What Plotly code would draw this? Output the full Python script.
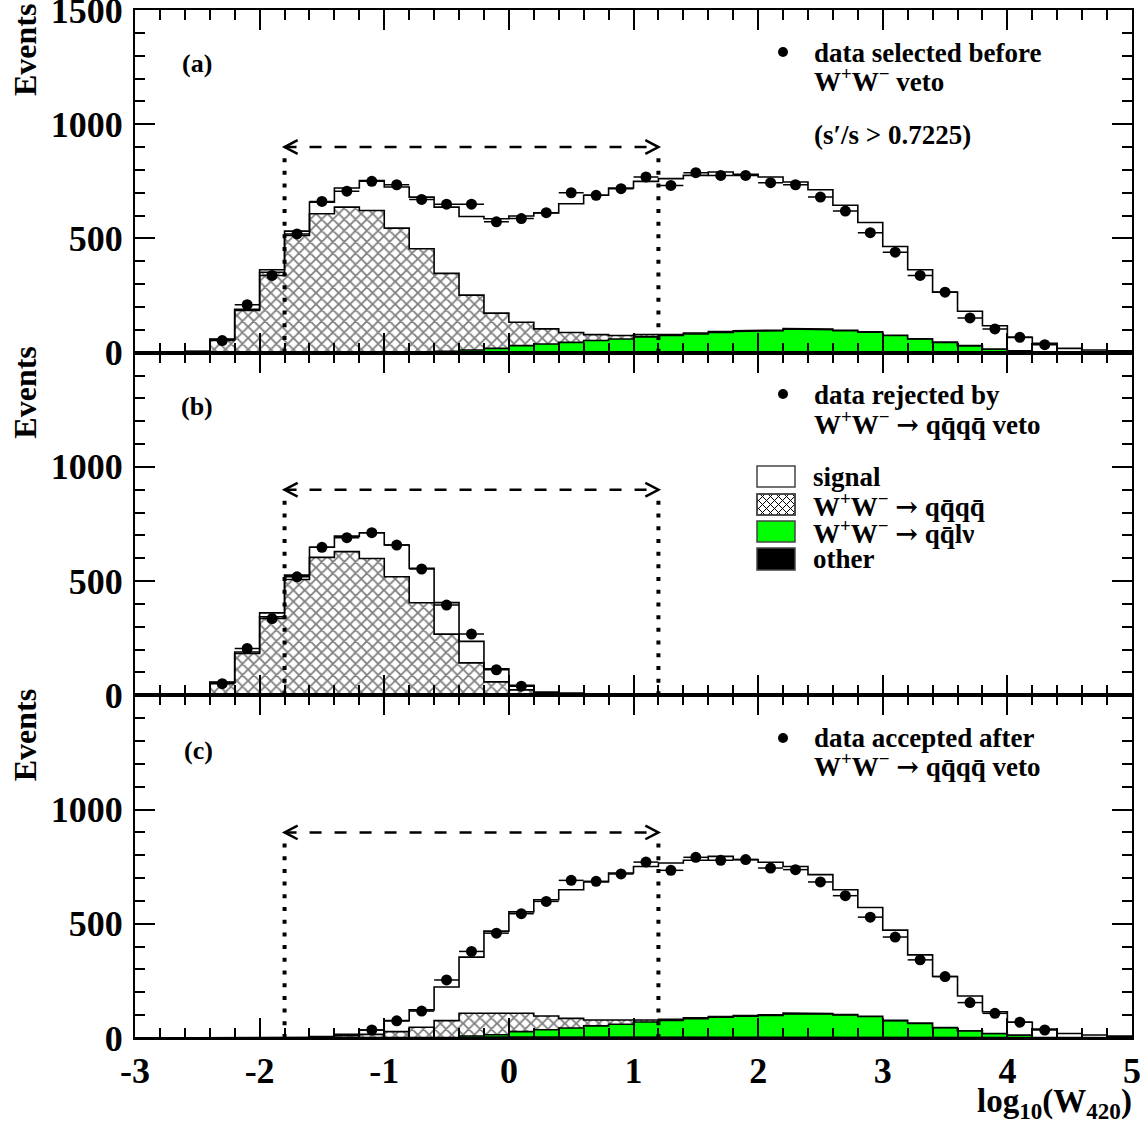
import numpy as np
import plotly.graph_objects as go

# ---------------- data ----------------
x_min, x_max, bin_width = -3.0, 5.0, 0.2
x_tick_vals = [-3, -2, -1, 0, 1, 2, 3, 4, 5]
x_tick_text = ["-3", "-2", "-1", "0", "1", "2", "3", "4", "5"]
y_tick_vals_top = [0, 500, 1000, 1500]
y_tick_vals = [0, 500, 1000]
cut_low, cut_high, arrow_level, dotted_top = -1.8, 1.2, 900, 880

# panel (a): selected before veto
other_a = [0,0,0,0,0,0,0,0,1,1,2,2,3,3,4,4,4,4,4,4,4,4,4,4,4,4,4,4,4,4,4,3,3,3,2,2,2,1,1,1]
lnu_a = [0,0,0,0,0,0,0,0,0,0,0,1,3,9,15,27,34,41,49,56,65,71,78,85,89,92,100,97,92,86,71,57,42,28,14,6,1,0,0,0]
qqqq_a = [0,0,5,57,185,352,513,608,636,621,543,452,341,240,154,102,66,43,26,15,10,5,4,3,3,3,2,2,2,1,1,1,1,0,0,0,0,0,0,0]
sig_a = [0,0,1,3,5,11,19,51,84,131,180,226,290,344,413,465,508,564,610,646,671,682,690,699,685,670,641,610,547,479,389,302,219,150,102,59,38,18,11,7]
data_a = [None,None,None,53,210,338,520,662,707,750,735,671,650,650,573,587,613,700,689,718,769,732,788,776,776,744,735,681,620,525,440,338,265,152,104,67,35,None,None,None]

# panel (b): rejected by veto
other_b = [0]*40
lnu_b = [0]*40
qqqq_b = [0,0,5,56,183,344,507,604,629,599,519,405,268,142,59,24,6,3,1,0,0,0,0,0,0,0,0,0,0,0,0,0,0,0,0,0,0,0,0,0]
sig_b = [0,0,1,2,7,17,19,44,68,113,139,151,138,94,57,20,8,7,5,3,2,1,0,0,0,0,0,0,0,0,0,0,0,0,0,0,0,0,0,0]
data_b = [None,None,None,51,205,336,519,648,690,712,658,553,395,268,112,40,None,None,None,None,None,None,None,None,None,None,None,None,None,None,None,None,None,None,None,None,None,None,None,None]

# panel (c): accepted after veto
other_c = [0,0,0,0,0,0,0,0,1,1,2,2,3,3,4,4,4,4,4,4,4,4,4,4,4,4,4,4,4,4,4,3,3,3,2,2,2,1,1,1]
lnu_c = [0,0,0,0,0,0,0,0,0,0,0,0,0,6,10,24,32,40,49,56,66,73,80,87,91,95,102,101,97,90,72,61,42,29,18,11,1,0,0,0]
qqqq_c = [0,0,0,0,0,0,2,4,9,15,26,45,73,99,97,80,60,42,26,16,9,5,4,3,3,3,3,2,2,1,1,1,1,0,0,0,0,0,0,0]
sig_c = [0,0,0,0,0,0,1,2,6,19,48,76,147,246,357,444,509,563,604,646,672,684,690,701,683,667,642,608,546,476,395,299,223,152,95,56,36,19,12,7]
data_c = [None,None,None,None,None,None,None,None,None,35,75,118,254,379,459,544,598,690,686,718,770,734,791,778,781,744,737,683,623,529,442,342,269,155,108,69,35,None,None,None]

# ---------------- layout geometry ----------------
W, H = 1144, 1128
L, R, T, B = 135, 1132, 10, 1038
PW, PH = R - L, B - T
FONT = "Liberation Serif"
GREEN = "#00ff00"


def pxx(xp):
    return (xp - L) / PW


def pxy(yp):
    return (B - yp) / PH


n_bins = len(sig_a)
edges = x_min + bin_width * np.arange(n_bins + 1)
centers = 0.5 * (edges[:-1] + edges[1:])


def step(vals):
    xs, ys = [edges[0]], [0.0]
    for i, v in enumerate(vals):
        xs += [edges[i], edges[i + 1]]
        ys += [v, v]
    xs.append(edges[-1])
    ys.append(0.0)
    return xs, ys


fig = go.Figure()
panels = [
    ("x", "y", other_a, lnu_a, qqqq_a, sig_a, data_a),
    ("x2", "y2", other_b, lnu_b, qqqq_b, sig_b, data_b),
    ("x3", "y3", other_c, lnu_c, qqqq_c, sig_c, data_c),
]
for xa, ya, oth, lnu, qq, sig, dat in panels:
    c1 = np.array(oth, float)
    c2 = c1 + np.array(lnu, float)
    c3 = c2 + np.array(qq, float)
    c4 = c3 + np.array(sig, float)
    line = dict(color="black", width=1.6)
    xs, ys = step(c1)
    fig.add_trace(go.Scatter(x=xs, y=ys, xaxis=xa, yaxis=ya, mode="lines", line=line,
                             fill="tozeroy", fillcolor="black", showlegend=False, hoverinfo="skip"))
    xs, ys = step(c2)
    fig.add_trace(go.Scatter(x=xs, y=ys, xaxis=xa, yaxis=ya, mode="lines", line=line,
                             fill="tonexty", fillcolor=GREEN, showlegend=False, hoverinfo="skip"))
    xs, ys = step(c3)
    fig.add_trace(go.Scatter(x=xs, y=ys, xaxis=xa, yaxis=ya, mode="lines", line=line,
                             fill="tonexty", fillcolor="white",
                             fillpattern=dict(shape="x", fgcolor="black", bgcolor="white",
                                              size=8, solidity=0.4),
                             showlegend=False, hoverinfo="skip"))
    xs, ys = step(c4)
    fig.add_trace(go.Scatter(x=xs, y=ys, xaxis=xa, yaxis=ya, mode="lines", line=line,
                             fill="tonexty", fillcolor="white", showlegend=False, hoverinfo="skip"))
    fig.add_trace(go.Scatter(x=centers, y=dat, xaxis=xa, yaxis=ya, mode="markers",
                             marker=dict(color="black", size=11),
                             error_x=dict(type="constant", value=bin_width / 2, width=0,
                                          thickness=1.5, color="black"),
                             showlegend=False))

tickfont = dict(family=FONT, size=36, color="black", weight="bold")
xcommon = dict(range=[x_min, x_max], showline=True, linewidth=2, linecolor="black",
               mirror="allticks", ticks="inside", ticklen=20, tickwidth=2, tickcolor="black",
               tickmode="array", tickvals=x_tick_vals, ticktext=x_tick_text, automargin=False,
               minor=dict(tickmode="linear", tick0=0, dtick=bin_width, ticklen=10, tickwidth=1.5,
                          ticks="inside", tickcolor="black"),
               showgrid=False, zeroline=False, tickfont=tickfont)
ycommon = dict(showline=True, linewidth=2, linecolor="black",
               mirror="allticks", ticks="inside", ticklen=20, tickwidth=2, tickcolor="black",
               tickmode="array", ticklabelstandoff=3, ticklabeloverflow="allow", automargin=False,
               minor=dict(tickmode="linear", tick0=0, dtick=100, ticklen=10, tickwidth=1.5,
                          ticks="inside", tickcolor="black"),
               showgrid=False, zeroline=False, tickfont=tickfont)

fig.update_layout(
    width=W, height=H, margin=dict(l=L, r=W - R, t=T, b=H - B, autoexpand=False),
    paper_bgcolor="white", plot_bgcolor="white",
    font=dict(family=FONT, size=26, color="black", weight="bold"),
    xaxis=dict(xcommon, anchor="y", showticklabels=False),
    xaxis2=dict(xcommon, anchor="y2", showticklabels=False, matches="x"),
    xaxis3=dict(xcommon, anchor="y3", matches="x"),
    yaxis=dict(ycommon, domain=[2 / 3, 1], anchor="x", range=[0, 1500], tickvals=y_tick_vals_top),
    yaxis2=dict(ycommon, domain=[1 / 3, 2 / 3], anchor="x2", range=[0, 1500], tickvals=y_tick_vals),
    yaxis3=dict(ycommon, domain=[0, 1 / 3], anchor="x3", range=[0, 1500], tickvals=y_tick_vals),
)

# ---------------- cut lines and arrows ----------------
shapes = []
arrow_dx, arrow_dy = 0.105, 30
for xa, ya in [("x", "y"), ("x2", "y2"), ("x3", "y3")]:
    for xc in (cut_low, cut_high):
        shapes.append(dict(type="line", xref=xa, yref=ya, x0=xc, x1=xc, y0=0, y1=dotted_top,
                           line=dict(color="black", width=4, dash="4px,8.7px")))
    shapes.append(dict(type="line", xref=xa, yref=ya, x0=cut_low, x1=cut_high,
                       y0=arrow_level, y1=arrow_level,
                       line=dict(color="black", width=2.5, dash="12px,13px")))
    shapes.append(dict(type="path", xref=xa, yref=ya,
                       path=f"M {cut_low + arrow_dx} {arrow_level + arrow_dy} L {cut_low} {arrow_level} "
                            f"L {cut_low + arrow_dx} {arrow_level - arrow_dy}",
                       line=dict(color="black", width=2.5)))
    shapes.append(dict(type="path", xref=xa, yref=ya,
                       path=f"M {cut_high - arrow_dx} {arrow_level + arrow_dy} L {cut_high} {arrow_level} "
                            f"L {cut_high - arrow_dx} {arrow_level - arrow_dy}",
                       line=dict(color="black", width=2.5)))

# legend bullets
for yb in (52, 394, 738):
    shapes.append(dict(type="circle", xref="paper", yref="paper",
                       x0=pxx(783 - 5), x1=pxx(783 + 5), y0=pxy(yb + 5), y1=pxy(yb - 5),
                       fillcolor="black", line=dict(color="black", width=0)))

# legend boxes
bx0, bx1 = 757, 795
boxes = [(466, 487, "white"), (494, 515, "white"), (521, 542, GREEN), (548, 570, "black")]
for y0, y1, col in boxes:
    shapes.append(dict(type="rect", xref="paper", yref="paper",
                       x0=pxx(bx0), x1=pxx(bx1), y0=pxy(y1), y1=pxy(y0),
                       fillcolor=col, line=dict(color="#444444", width=1.5), layer="above"))

# cross-hatch inside the second legend box
hy0, hy1 = 494, 515
segs = []
spacing = 8
for c in np.arange(bx0 - (hy1 - hy0), bx1 + spacing, spacing):
    for sgn in (1, -1):
        ya_, yb_ = hy0, hy1
        if sgn == 1:
            xa_, xb_ = c, c + (hy1 - hy0)
        else:
            xa_, xb_ = c + (hy1 - hy0), c
        ta = (bx0 - xa_) / (xb_ - xa_)
        tb = (bx1 - xa_) / (xb_ - xa_)
        t0 = max(0.0, min(ta, tb))
        t1 = min(1.0, max(ta, tb))
        if t1 <= t0:
            continue
        p0 = (xa_ + t0 * (xb_ - xa_), ya_ + t0 * (yb_ - ya_))
        p1 = (xa_ + t1 * (xb_ - xa_), ya_ + t1 * (yb_ - ya_))
        segs.append(f"M {pxx(p0[0]):.5f} {pxy(p0[1]):.5f} L {pxx(p1[0]):.5f} {pxy(p1[1]):.5f}")
shapes.append(dict(type="path", xref="paper", yref="paper", path=" ".join(segs),
                   line=dict(color="black", width=1), layer="above"))
shapes.append(dict(type="rect", xref="paper", yref="paper",
                   x0=pxx(bx0), x1=pxx(bx1), y0=pxy(hy1), y1=pxy(hy0),
                   line=dict(color="#444444", width=1.5), layer="above"))

fig.update_layout(shapes=shapes)

# ---------------- text ----------------
WW = "W<sup>+</sup>W<sup>\u2212</sup>"
ARROW = "<span style=\"font-family:'DejaVu Serif'\">\u2192</span>"
qqqq = "qq\u0304qq\u0304"
texts = [
    (180, 63, "(a)", 26, "left"),
    (179, 407, "(b)", 26, "left"),
    (182, 750, "(c)", 26, "left"),
    (812, 53, "data selected before", 27, "left"),
    (812, 80, WW + " veto", 27, "left"),
    (812, 135, "(s\u2032/s > 0.7225)", 27, "left"),
    (812, 395, "data rejected by", 27, "left"),
    (812, 423, WW + " " + ARROW + " " + qqqq + " veto", 27, "left"),
    (811, 477, "signal", 27, "left"),
    (811, 505, WW + " " + ARROW + " " + qqqq, 27, "left"),
    (811, 532, WW + " " + ARROW + " qq\u0304l\u03bd", 27, "left"),
    (811, 559, "other", 27, "left"),
    (812, 738, "data accepted after", 27, "left"),
    (812, 765, WW + " " + ARROW + " " + qqqq + " veto", 27, "left"),
]
annotations = []
for xp, yp, txt, size, anchor in texts:
    annotations.append(dict(x=pxx(xp), y=pxy(yp), xref="paper", yref="paper", text=txt,
                            showarrow=False, xanchor=anchor, yanchor="middle",
                            font=dict(family=FONT, size=size, color="black", weight="bold")))
annotations.append(dict(x=pxx(1134), y=pxy(1103), xref="paper", yref="paper",
                        text="log<sub>10</sub>(W<sub>420</sub>)", showarrow=False,
                        xanchor="right", yanchor="middle",
                        font=dict(family=FONT, size=33, color="black", weight="bold")))
for ytop in (T - 8, T + PH / 3 - 8, T + 2 * PH / 3 - 8):
    annotations.append(dict(x=pxx(25), y=pxy(ytop), xref="paper", yref="paper",
                            text="Events", showarrow=False, textangle=-90,
                            xanchor="center", yanchor="top",
                            font=dict(family=FONT, size=32, color="black", weight="bold")))
fig.update_layout(annotations=annotations)

fig.write_html("out.html")
